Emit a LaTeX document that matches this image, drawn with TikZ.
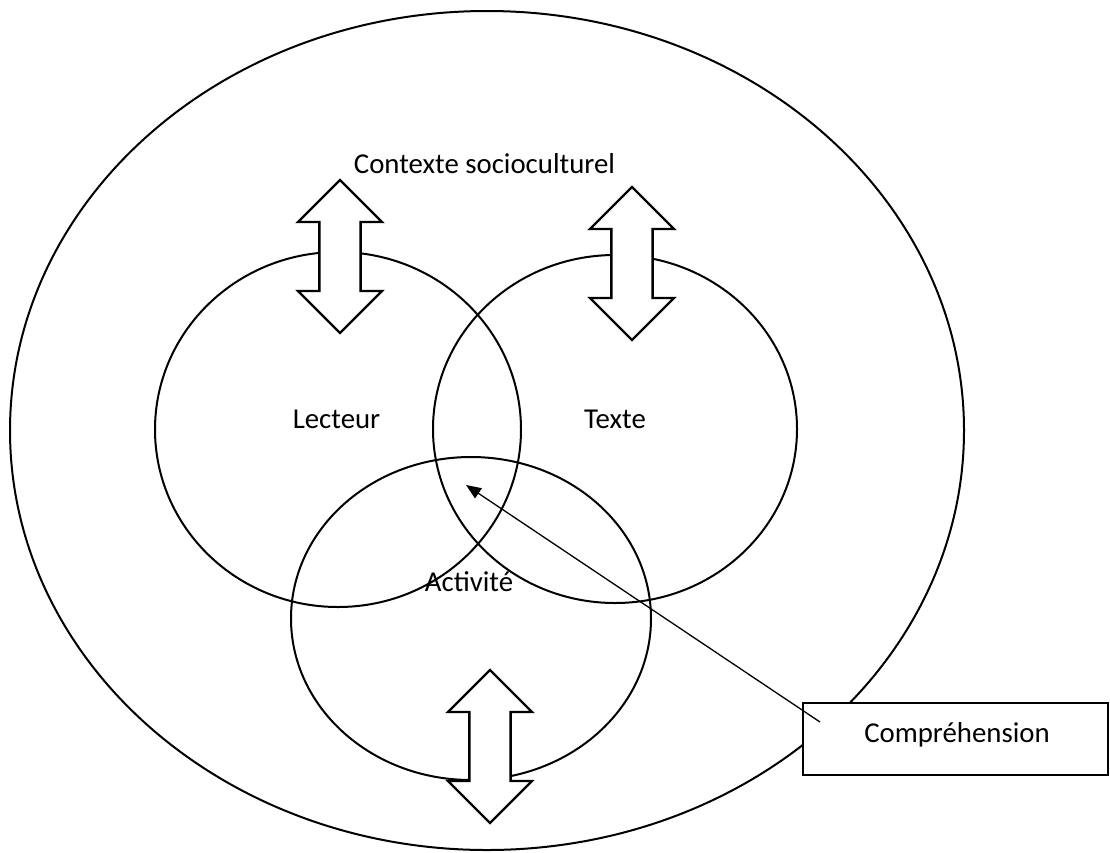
\documentclass[tikz,border=0pt]{standalone}
\usepackage{fontspec}
\setmainfont{Carlito}
\usetikzlibrary{shapes.arrows,arrows.meta}
\tikzset{
  ring/.style={draw, line width=2pt},
  dblarrow/.style={double arrow, draw, fill=white, line width=2.4pt, rotate=90,
    minimum height=153pt, minimum width=84pt, double arrow head extend=21pt,
    inner xsep=0pt, inner ysep=19pt, outer sep=0pt},
  lbl/.style={anchor=base, font=\fontsize{28.8}{34}\selectfont, inner sep=0pt},
  compbox/.style={draw, fill=white, line width=2pt, minimum width=305pt, minimum height=72pt, inner sep=0pt},
  pointer/.style={draw, line width=1.3pt, -{Triangle[length=15pt,width=12pt]}}
}
\begin{document}
\begin{tikzpicture}[x=1pt,y=-1pt]
\useasboundingbox (0,0) rectangle (1110,852);
% outer context
\draw[ring] (487,430.5) ellipse [x radius=477, y radius=419.5];
% three circles
\draw[ring] (338,429.5) ellipse [x radius=183, y radius=177.5];
\draw[ring] (615,429) ellipse [x radius=182, y radius=174];
\draw[ring] (471,618.5) ellipse [x radius=180, y radius=161.5];
% double arrows
\node[dblarrow] (arrowL) at (340,256.5) {};
\node[dblarrow] (arrowT) at (632,263.5) {};
\node[dblarrow] (arrowA) at (490,746.5) {};
% box
\node[compbox] (comp) at (955.5,739) {};
\node[lbl] (comptext) at (957,742) {Compréhension};
% pointer
\coordinate (pstart) at (820,722);
\coordinate (pend) at (466,485);
\draw[pointer] (pstart) -- (pend);
% labels
\node[lbl] (ctx) at (484.5,173) {Contexte socioculturel};
\node[lbl] (lect) at (336.5,428) {Lecteur};
\node[lbl] (texte) at (615,428) {Texte};
\node[lbl] (act) at (469,591) {Activité};
\end{tikzpicture}
\end{document}
